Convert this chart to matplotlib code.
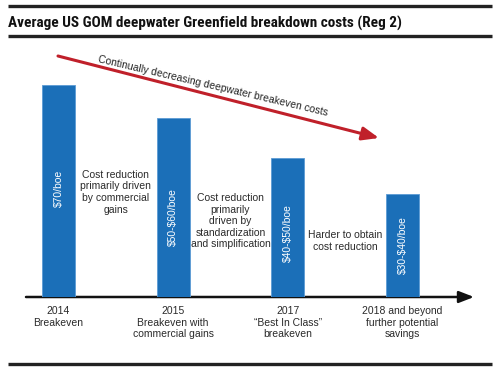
import matplotlib
matplotlib.use("Agg")
import matplotlib.pyplot as plt
from matplotlib import font_manager

# data
periods = ["2014\nBreakeven",
           "2015\nBreakeven with\ncommercial gains",
           "2017\n\u201cBest In Class\u201d\nbreakeven",
           "2018 and beyond\nfurther potential\nsavings"]
costs = [70, 59, 46, 34]
cost_labels = [r"\$70/boe", r"\$50-\$60/boe", r"\$40-\$50/boe", r"\$30-\$40/boe"]
notes = ["Cost reduction\nprimarily driven\nby commercial\ngains",
         "Cost reduction\nprimarily\ndriven by\nstandardization\nand simplification",
         "Harder to obtain\ncost reduction"]
title = "Average US GOM deepwater Greenfield breakdown costs (Reg 2)"
trend = "Continually decreasing deepwater breakeven costs"

names = {f.name for f in font_manager.fontManager.ttflist}
body = "Liberation Sans" if "Liberation Sans" in names else "DejaVu Sans"
narrow = None
for cand in ["Liberation Sans Narrow", "Roboto Condensed", "DejaVu Sans Condensed",
             "Open Sans Condensed", "Noto Sans Condensed"]:
    if cand in names:
        narrow = cand
        break
plt.rcParams["font.family"] = body

W, H = 500, 371
fig = plt.figure(figsize=(5, 3.71), dpi=100)

# bar axes: 1 unit in x = 114.67 px, centre of first bar at 58.5 px
step = 114.67
x0 = 58.5 - 0.5 * step
base = 297
ppu = 3.03
ax = fig.add_axes([x0 / W, (H - base) / H, 4 * step / W, 80 * ppu / H])
ax.set_xlim(-0.5, 3.5)
ax.set_ylim(0, 80)
ax.axis("off")
xs = list(range(len(costs)))
ax.bar(xs, costs, width=33 / step, color="#1b6fb8", edgecolor="#5b9bd5", linewidth=0.6)
for x, lab in zip(xs, cost_labels):
    yc = [36, 26.5, 21, 17][x]
    ax.text(x, yc, lab, rotation=90, ha="center", va="center",
            color="white", fontsize=7.5)
for x, note in zip(xs, notes):
    yc = [34.6, 25, 18.5][x]
    ax.text(x + 0.5, yc, note, ha="center", va="center", fontsize=7.5,
            color="#2a2a2a", linespacing=1.2)
for x, p in zip(xs, periods):
    ax.text(x, -3.0, p, ha="center", va="top", fontsize=7.5,
            color="#2a2a2a", linespacing=1.2, clip_on=False)

# overlay in pixel coordinates for rules and arrows
ov = fig.add_axes([0, 0, 1, 1], zorder=-1)
ov.set_xlim(0, W)
ov.set_ylim(H, 0)
ov.axis("off")
for y in (6, 36, 364):
    ov.plot([8, 492], [y, y], color="#222222", lw=2.4, solid_capstyle="butt")
if narrow:
    ov.text(8, 23, title, fontsize=11, fontweight="bold", family=narrow,
            va="center", ha="left", color="#111111")
else:
    ov.text(8, 23, title, fontsize=9.2, fontweight="bold",
            va="center", ha="left", color="#111111")

ov.annotate("", xy=(474, 297), xytext=(26, 297),
            arrowprops=dict(arrowstyle="-|>,head_length=0.9,head_width=0.35",
                            color="#111111", lw=1.8, shrinkA=0, shrinkB=0))
ov.annotate("", xy=(379, 138), xytext=(58, 56),
            arrowprops=dict(arrowstyle="-|>,head_length=1.0,head_width=0.4",
                            color="#c0202a", lw=2.2, shrinkA=0, shrinkB=0))
ov.text(213, 86, trend, rotation=-13.2, rotation_mode="anchor",
        ha="center", va="center", fontsize=7.5, color="#222222")

fig.savefig("out.png", dpi=100)
